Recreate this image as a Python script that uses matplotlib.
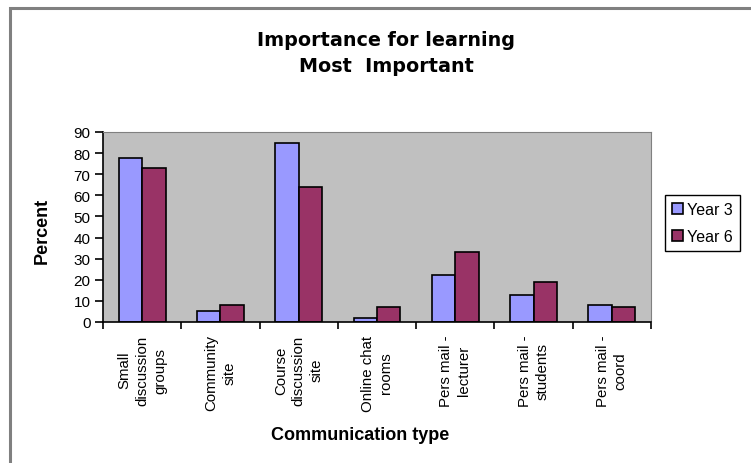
import numpy as np
import matplotlib.pyplot as plt
from matplotlib.patches import Rectangle

categories = ['Small\ndiscussion\ngroups', 'Community\nsite', 'Course\ndiscussion\nsite',
              'Online chat\nrooms', 'Pers mail -\nlecturer', 'Pers mail -\nstudents', 'Pers mail -\ncoord']
year3 = [77.5, 5, 85, 2, 22.5, 13, 8]
year6 = [73, 8, 64, 7, 33, 19, 7]
yticks = np.arange(0, 91, 10)

plt.rcParams['font.family'] = ['Liberation Sans', 'DejaVu Sans']

fig = plt.figure(figsize=(7.51, 4.64), dpi=100)
ax = fig.add_axes([103/751, 1-323/464, 548/751, 190/464])
ax.set_facecolor('#C0C0C0')

x = np.arange(len(categories))
w = 0.3
ax.bar(x - w/2, year3, w, color='#9999FF', edgecolor='black', linewidth=1.2, label='Year 3')
ax.bar(x + w/2, year6, w, color='#993366', edgecolor='black', linewidth=1.2, label='Year 6')

ax.set_xlim(-0.5, len(categories) - 0.5)
ax.set_ylim(0, 90)
ax.set_yticks(yticks)
ax.tick_params(axis='y', labelsize=11, length=6, width=1.2, direction='out', pad=3)
ax.set_xticks(x)
ax.set_xticklabels(categories, rotation=90, fontsize=10.8,
                   multialignment='center', linespacing=1.35)
ax.tick_params(axis='x', which='major', length=0, pad=9)
ax.set_xticks(np.arange(-0.5, len(categories)), minor=True)
ax.tick_params(axis='x', which='minor', length=5, width=1.2, direction='out')
for s in ['top', 'right']:
    ax.spines[s].set_color('#808080')
for s in ['left', 'bottom']:
    ax.spines[s].set_color('black')
    ax.spines[s].set_linewidth(1.2)

fig.text(386/751, 1-41/464, 'Importance for learning', ha='center', va='center',
         fontsize=13.8, fontweight='bold', family='DejaVu Sans')
fig.text(386/751, 1-67/464, 'Most  Important', ha='center', va='center',
         fontsize=13.8, fontweight='bold', family='DejaVu Sans')
fig.text(42/751, 1-231/464, 'Percent', rotation=90, ha='center', va='center',
         fontsize=13, fontweight='bold')
fig.text(360/751, 1-436/464, 'Communication type', ha='center', va='center',
         fontsize=13, fontweight='bold')

fig.legend(loc='upper left', bbox_to_anchor=(665/751, 1-196/464), fontsize=11.5,
           frameon=True, fancybox=False, edgecolor='black', framealpha=1,
           handlelength=0.65, handleheight=0.65, handletextpad=0.3, borderpad=0.45,
           labelspacing=0.75, borderaxespad=0)

fig.patches.append(Rectangle((10/751, -0.1), 1, 1.1 - 9/464, transform=fig.transFigure,
                             fill=False, edgecolor='#808080', linewidth=2.2))

fig.savefig('out.png', dpi=100)
